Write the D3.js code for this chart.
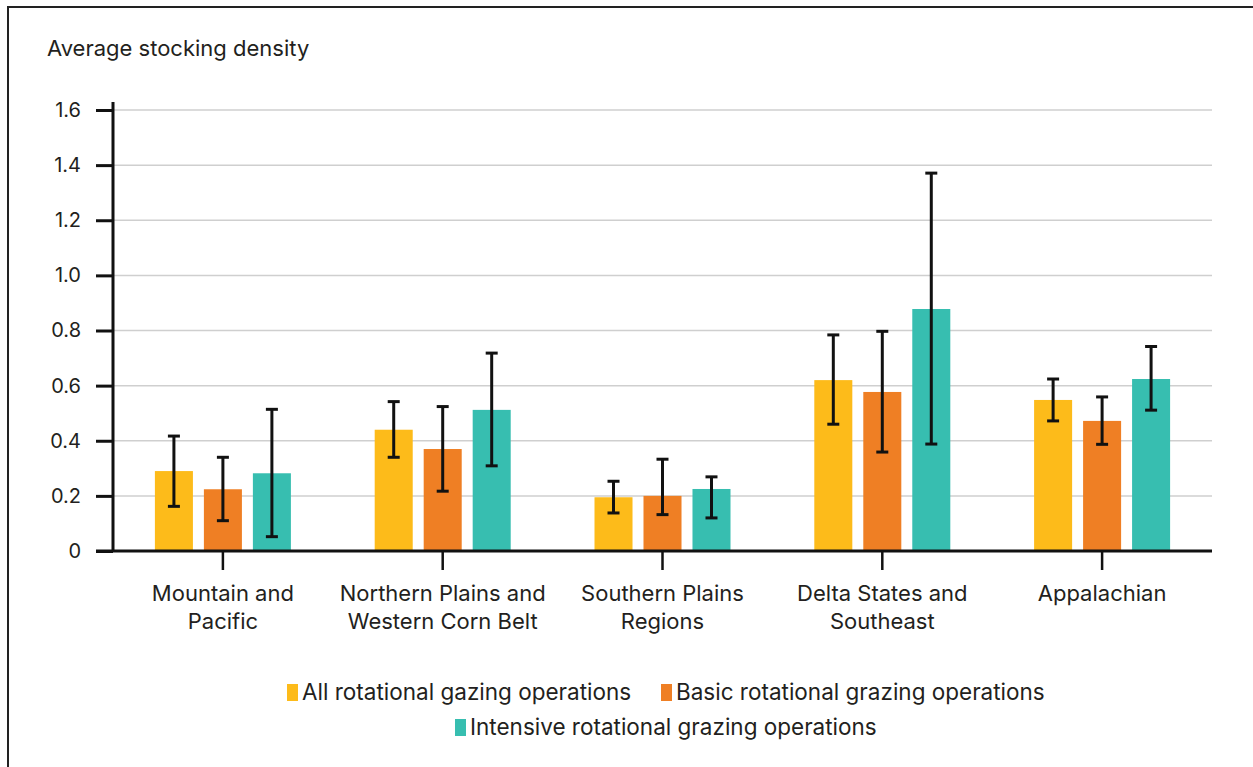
<!DOCTYPE html>
<html>
<head>
<meta charset="utf-8">
<script src="https://cdn.jsdelivr.net/npm/d3@7"></script>
<style>
  body { margin: 0; background: #fff; }
  text { font-family: Inter, "Noto Sans", sans-serif; fill: #231f20; }
</style>
</head>
<body>
<div id="chart"></div>
<script>
var width = 1253,
    height = 767;

var regions = [
  ["Mountain and", "Pacific"],
  ["Northern Plains and", "Western Corn Belt"],
  ["Southern Plains", "Regions"],
  ["Delta States and", "Southeast"],
  ["Appalachian"]
];
var regionKeys = regions.map(function(d) { return d.join(" "); });

var seriesNames = [
  "All rotational gazing operations",
  "Basic rotational grazing operations",
  "Intensive rotational grazing operations"
];
var colors = ["#FDBB1A", "#EF7F24", "#37BEB0"];

// mean, lower, upper per region
var allMean  = [0.29, 0.44, 0.195, 0.62, 0.548];
var allLow   = [0.162, 0.34, 0.138, 0.46, 0.472];
var allHigh  = [0.417, 0.542, 0.253, 0.784, 0.624];

var basicMean = [0.224, 0.37, 0.2, 0.577, 0.472];
var basicLow  = [0.11, 0.217, 0.132, 0.359, 0.387];
var basicHigh = [0.34, 0.524, 0.333, 0.797, 0.559];

var intMean = [0.282, 0.512, 0.225, 0.878, 0.624];
var intLow  = [0.052, 0.309, 0.12, 0.388, 0.511];
var intHigh = [0.514, 0.718, 0.269, 1.371, 0.742];

var yTicks = [0, 0.2, 0.4, 0.6, 0.8, 1.0, 1.2, 1.4, 1.6];

var means = [allMean, basicMean, intMean],
    lows = [allLow, basicLow, intLow],
    highs = [allHigh, basicHigh, intHigh];

var svg = d3.select("#chart").append("svg")
  .attr("width", width)
  .attr("height", height);

// frame (cropped box: only top and left edges show)
svg.append("path")
  .attr("d", "M8," + height + "V7H" + width)
  .attr("fill", "none")
  .attr("stroke", "#222")
  .attr("stroke-width", 2);

var plotLeft = 113, plotRight = 1212, plotTop = 110, plotBottom = 551;

var y = d3.scaleLinear().domain([0, 1.6]).range([plotBottom, plotTop]);
var x0 = d3.scaleBand().domain(regionKeys).range([plotLeft, plotRight]);
var x1 = d3.scaleBand().domain(seriesNames).range([0, 136]).paddingInner(0.224);
var groupOffset = (x0.bandwidth() - 136) / 2;

svg.append("text")
  .attr("x", 47)
  .attr("y", 56)
  .style("font-size", "22px")
  .text("Average stocking density");

// gridlines
svg.append("g").selectAll("line")
  .data(yTicks.filter(function(d) { return d > 0; }))
  .enter().append("line")
  .attr("x1", plotLeft).attr("x2", plotRight)
  .attr("y1", function(d) { return y(d); })
  .attr("y2", function(d) { return y(d); })
  .attr("stroke", "#cfcfcf")
  .attr("stroke-width", 1.5);

// y axis
var yAxis = d3.axisLeft(y)
  .tickValues(yTicks)
  .tickSize(17)
  .tickPadding(15)
  .tickFormat(function(d) { return d === 0 ? "0" : d3.format(".1f")(d); });

var yg = svg.append("g")
  .attr("transform", "translate(" + plotLeft + ",0)")
  .call(yAxis);
yg.select(".domain").remove();
yg.selectAll(".tick line").attr("stroke", "#111").attr("stroke-width", 3);
yg.selectAll(".tick text")
  .style("font-size", "20px")
  .style("font-family", "Inter, 'Noto Sans', sans-serif")
  .attr("fill", "#231f20");
svg.append("line")
  .attr("x1", plotLeft).attr("x2", plotLeft)
  .attr("y1", 102).attr("y2", plotBottom + 1)
  .attr("stroke", "#111").attr("stroke-width", 3);

// bars + error bars
var groups = svg.append("g").selectAll("g")
  .data(regionKeys)
  .enter().append("g")
  .attr("transform", function(d) { return "translate(" + (x0(d) + groupOffset) + ",0)"; });

groups.each(function(region, ri) {
  var g = d3.select(this);
  seriesNames.forEach(function(s, si) {
    var bx = x1(s), bw = x1.bandwidth(), cx = bx + bw / 2;
    g.append("rect")
      .attr("x", bx)
      .attr("y", y(means[si][ri]))
      .attr("width", bw)
      .attr("height", plotBottom - y(means[si][ri]))
      .attr("fill", colors[si]);
    var hi = y(highs[si][ri]), lo = y(lows[si][ri]);
    g.append("line")
      .attr("x1", cx).attr("x2", cx).attr("y1", hi).attr("y2", lo)
      .attr("stroke", "#111").attr("stroke-width", 3);
    [hi, lo].forEach(function(v) {
      g.append("line")
        .attr("x1", cx - 6).attr("x2", cx + 6).attr("y1", v).attr("y2", v)
        .attr("stroke", "#111").attr("stroke-width", 3);
    });
  });
});

// x axis
svg.append("line")
  .attr("x1", 96).attr("x2", plotRight)
  .attr("y1", plotBottom).attr("y2", plotBottom)
  .attr("stroke", "#111").attr("stroke-width", 3);

var xt = svg.append("g").selectAll("g")
  .data(regions)
  .enter().append("g")
  .attr("transform", function(d, i) { return "translate(" + (x0(regionKeys[i]) + x0.bandwidth() / 2) + ",0)"; });

xt.append("line")
  .attr("y1", plotBottom).attr("y2", 570)
  .attr("stroke", "#111").attr("stroke-width", 2.5);

xt.each(function(lines) {
  var t = d3.select(this).append("text")
    .attr("text-anchor", "middle")
    .style("font-size", "22px");
  lines.forEach(function(l, i) {
    t.append("tspan").attr("x", 0).attr("y", 601 + i * 28).text(l);
  });
});

// legend
var legendPos = [[287, 692], [661, 692], [455, 727]];
var legend = svg.append("g").selectAll("g")
  .data(seriesNames)
  .enter().append("g")
  .attr("transform", function(d, i) { return "translate(" + legendPos[i][0] + "," + legendPos[i][1] + ")"; });

legend.append("rect")
  .attr("x", 0).attr("y", -8)
  .attr("width", 11).attr("height", 17)
  .attr("fill", function(d, i) { return colors[i]; });

legend.append("text")
  .attr("x", 15)
  .attr("y", 8)
  .style("font-size", "22.5px")
  .text(function(d) { return d; });
</script>
</body>
</html>
